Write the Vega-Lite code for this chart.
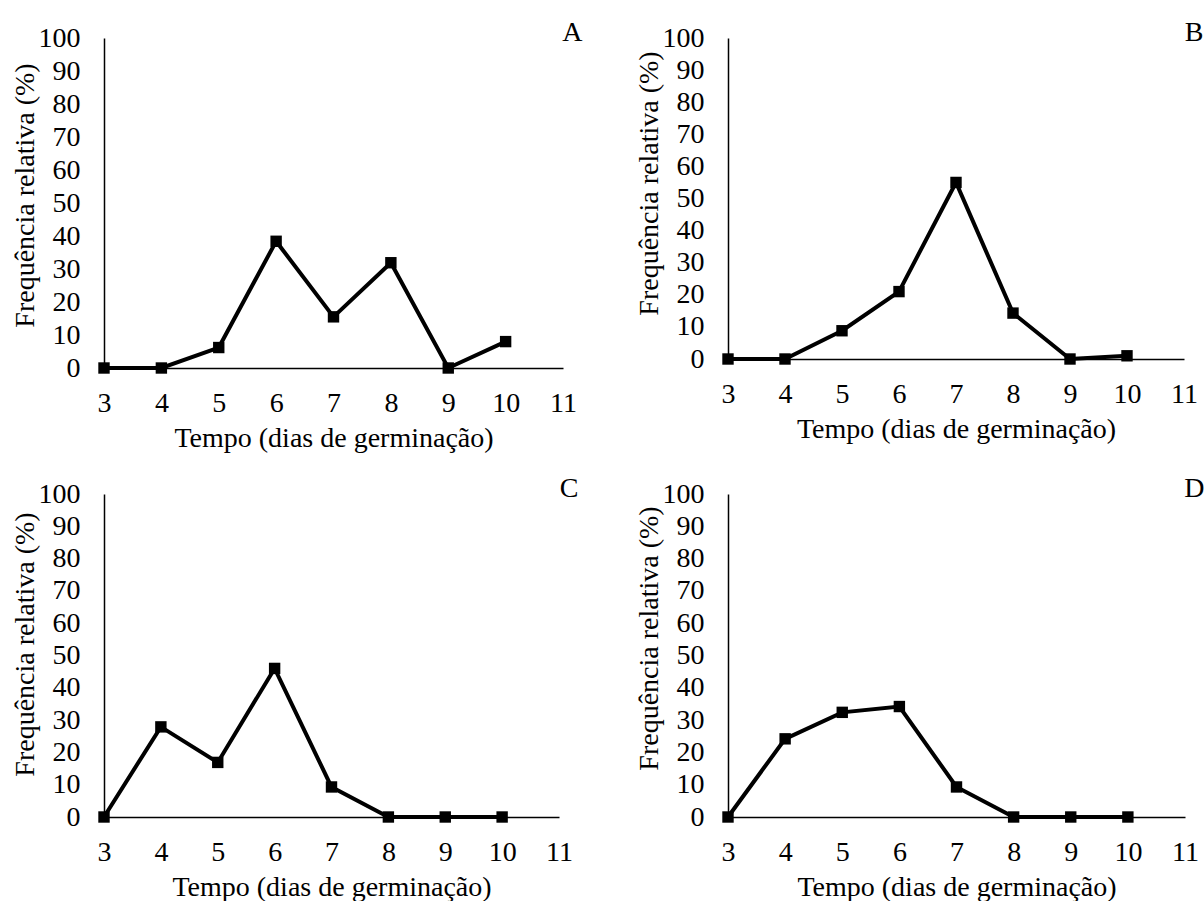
{
  "$schema": "https://vega.github.io/schema/vega-lite/v6.json",
  "background": "white",
  "padding": {"left": 10, "top": 19, "right": 0, "bottom": 0},
  "datasets": {
    "freq": [
      {"painel": "A", "dia": 3, "freq": 0},
      {"painel": "A", "dia": 4, "freq": 0},
      {"painel": "A", "dia": 5, "freq": 6.2},
      {"painel": "A", "dia": 6, "freq": 38.4},
      {"painel": "A", "dia": 7, "freq": 15.5},
      {"painel": "A", "dia": 8, "freq": 31.9},
      {"painel": "A", "dia": 9, "freq": 0},
      {"painel": "A", "dia": 10, "freq": 8},
      {"painel": "B", "dia": 3, "freq": 0},
      {"painel": "B", "dia": 4, "freq": 0},
      {"painel": "B", "dia": 5, "freq": 8.8},
      {"painel": "B", "dia": 6, "freq": 21},
      {"painel": "B", "dia": 7, "freq": 55},
      {"painel": "B", "dia": 8, "freq": 14.3},
      {"painel": "B", "dia": 9, "freq": 0},
      {"painel": "B", "dia": 10, "freq": 1},
      {"painel": "C", "dia": 3, "freq": 0},
      {"painel": "C", "dia": 4, "freq": 27.9},
      {"painel": "C", "dia": 5, "freq": 16.9},
      {"painel": "C", "dia": 6, "freq": 46},
      {"painel": "C", "dia": 7, "freq": 9.3},
      {"painel": "C", "dia": 8, "freq": 0},
      {"painel": "C", "dia": 9, "freq": 0},
      {"painel": "C", "dia": 10, "freq": 0},
      {"painel": "D", "dia": 3, "freq": 0},
      {"painel": "D", "dia": 4, "freq": 24.2},
      {"painel": "D", "dia": 5, "freq": 32.4},
      {"painel": "D", "dia": 6, "freq": 34.2},
      {"painel": "D", "dia": 7, "freq": 9.3},
      {"painel": "D", "dia": 8, "freq": 0},
      {"painel": "D", "dia": 9, "freq": 0},
      {"painel": "D", "dia": 10, "freq": 0}
    ]
  },
  "config": {
    "view": {"stroke": null},
    "font": "Liberation Serif",
    "title": {"font": "Liberation Serif", "fontSize": 28, "fontWeight": "normal", "color": "black", "anchor": "end", "orient": "top", "dx": 6, "offset": -23, "baseline": "alphabetic"},
    "axis": {
      "domainColor": "black",
      "domainWidth": 1.5,
      "ticks": false,
      "grid": false,
      "labelFont": "Liberation Serif",
      "labelFontSize": 28,
      "labelColor": "black",
      "labelFlush": false,
      "labelOverlap": false,
      "titleFont": "Liberation Serif",
      "titleFontSize": 28,
      "titleFontWeight": "normal",
      "titleColor": "black"
    },
    "axisX": {"labelPadding": 21, "titlePadding": 7},
    "axisY": {"labelPadding": 24, "titlePadding": -1}
  },
  "columns": 2,
  "spacing": {"row": 126, "column": 165},
  "bounds": "flush",
  "concat": [
    {
      "title": "A",
      "width": 459,
      "height": 330,
      "data": {"name": "freq"},
      "transform": [{"filter": "datum.painel == 'A'"}],
      "encoding": {
        "x": {"field": "dia", "type": "quantitative", "scale": {"domain": [3, 11], "nice": false, "zero": false}, "axis": {"values": [3, 4, 5, 6, 7, 8, 9, 10, 11], "title": "Tempo (dias de germinação)"}},
        "y": {"field": "freq", "type": "quantitative", "scale": {"domain": [0, 100], "nice": false}, "axis": {"values": [0, 10, 20, 30, 40, 50, 60, 70, 80, 90, 100], "title": "Frequência relativa (%)", "titleY": 157}}
      },
      "layer": [
        {"mark": {"type": "line", "color": "black", "strokeWidth": 4}},
        {"mark": {"type": "point", "shape": "square", "filled": true, "size": 130, "color": "black", "opacity": 1}}
      ]
    },
    {
      "title": "B",
      "width": 456,
      "height": 321,
      "data": {"name": "freq"},
      "transform": [{"filter": "datum.painel == 'B'"}],
      "encoding": {
        "x": {"field": "dia", "type": "quantitative", "scale": {"domain": [3, 11], "nice": false, "zero": false}, "axis": {"values": [3, 4, 5, 6, 7, 8, 9, 10, 11], "title": "Tempo (dias de germinação)"}},
        "y": {"field": "freq", "type": "quantitative", "scale": {"domain": [0, 100], "nice": false}, "axis": {"values": [0, 10, 20, 30, 40, 50, 60, 70, 80, 90, 100], "title": "Frequência relativa (%)", "titleY": 145}}
      },
      "layer": [
        {"mark": {"type": "line", "color": "black", "strokeWidth": 4}},
        {"mark": {"type": "point", "shape": "square", "filled": true, "size": 130, "color": "black", "opacity": 1}}
      ]
    },
    {
      "title": "C",
      "width": 455,
      "height": 323,
      "data": {"name": "freq"},
      "transform": [{"filter": "datum.painel == 'C'"}],
      "encoding": {
        "x": {"field": "dia", "type": "quantitative", "scale": {"domain": [3, 11], "nice": false, "zero": false}, "axis": {"values": [3, 4, 5, 6, 7, 8, 9, 10, 11], "title": "Tempo (dias de germinação)"}},
        "y": {"field": "freq", "type": "quantitative", "scale": {"domain": [0, 100], "nice": false}, "axis": {"values": [0, 10, 20, 30, 40, 50, 60, 70, 80, 90, 100], "title": "Frequência relativa (%)", "titleY": 150}}
      },
      "layer": [
        {"mark": {"type": "line", "color": "black", "strokeWidth": 4}},
        {"mark": {"type": "point", "shape": "square", "filled": true, "size": 130, "color": "black", "opacity": 1}}
      ]
    },
    {
      "title": "D",
      "width": 457,
      "height": 323,
      "data": {"name": "freq"},
      "transform": [{"filter": "datum.painel == 'D'"}],
      "encoding": {
        "x": {"field": "dia", "type": "quantitative", "scale": {"domain": [3, 11], "nice": false, "zero": false}, "axis": {"values": [3, 4, 5, 6, 7, 8, 9, 10, 11], "title": "Tempo (dias de germinação)"}},
        "y": {"field": "freq", "type": "quantitative", "scale": {"domain": [0, 100], "nice": false}, "axis": {"values": [0, 10, 20, 30, 40, 50, 60, 70, 80, 90, 100], "title": "Frequência relativa (%)", "titleY": 144}}
      },
      "layer": [
        {"mark": {"type": "line", "color": "black", "strokeWidth": 4}},
        {"mark": {"type": "point", "shape": "square", "filled": true, "size": 130, "color": "black", "opacity": 1}}
      ]
    }
  ]
}
